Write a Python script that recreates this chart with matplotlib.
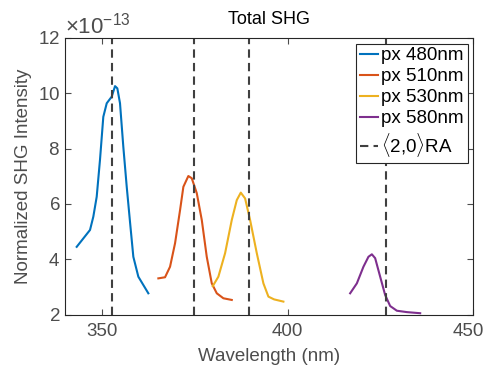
import numpy as np
import matplotlib.pyplot as plt
from matplotlib.ticker import ScalarFormatter
from matplotlib.transforms import ScaledTranslation

plt.rcParams['font.family'] = ['Liberation Sans', 'DejaVu Sans']
plt.rcParams['mathtext.fontset'] = 'custom'
plt.rcParams['mathtext.rm'] = 'Liberation Sans'

# spectra (wavelength in nm, intensity in units of 1e-13)
wl_480 = [343.15, 346.74, 347.63, 348.54, 349.43, 350.32, 351.24, 352.59, 353.48,
          354.10, 354.82, 355.71, 356.63, 357.55, 358.41, 359.76, 362.45]
I_480 = [4.45, 5.06, 5.54, 6.26, 7.60, 9.15, 9.64, 9.88, 10.26,
         10.18, 9.64, 8.07, 6.62, 5.30, 4.09, 3.37, 2.77]

wl_510 = [365.15, 366.95, 368.30, 369.65, 371.00, 371.89, 373.23, 374.15,
          375.50, 376.85, 378.19, 379.54, 380.89, 382.67, 384.93]
I_510 = [3.31, 3.35, 3.73, 4.58, 5.78, 6.62, 7.01, 6.93,
         6.39, 5.42, 4.09, 3.13, 2.77, 2.59, 2.53]

wl_530 = [379.81, 381.32, 383.13, 384.93, 386.28, 387.36, 388.52, 389.87,
          391.67, 393.45, 394.80, 396.33, 398.84]
I_530 = [3.03, 3.37, 4.22, 5.42, 6.14, 6.41, 6.20, 5.42,
         4.22, 3.13, 2.65, 2.55, 2.47]

wl_580 = [416.82, 418.63, 420.40, 421.75, 422.67, 423.56, 424.91, 426.25,
          427.60, 429.41, 432.10, 435.69]
I_580 = [2.77, 3.13, 3.73, 4.09, 4.18, 4.04, 3.37, 2.71,
         2.31, 2.14, 2.09, 2.05]

ra_lines = [352.75, 374.86, 389.6, 426.4]

labels = ['px 480nm', 'px 510nm', 'px 530nm', 'px 580nm']
colors = ['#0072BD', '#D95319', '#EDB120', '#7E2F8E']

fig = plt.figure(figsize=(4.86, 3.74), dpi=100)
ax = fig.add_axes([65 / 486, 1 - 314.6 / 374, (473.3 - 65) / 486, (314.6 - 38) / 374])

series = [(wl_480, I_480), (wl_510, I_510), (wl_530, I_530), (wl_580, I_580)]
for (x, y), lab, c in zip(series, labels, colors):
    ax.plot(x, np.array(y) * 1e-13, color=c, lw=1.5, label=lab)

for i, xv in enumerate(ra_lines):
    ax.axvline(xv, color='#404040', ls=(0, (4, 2.5)), lw=1.5,
               label=r'$\langle$2,0$\rangle$RA' if i == 0 else None)

ax.set_xlim(340, 450)
ax.set_ylim(2e-13, 12e-13)
ax.set_xticks([350, 400, 450])
ax.set_yticks(np.arange(2, 13, 2) * 1e-13)
fmt = ScalarFormatter(useMathText=True)
fmt.set_powerlimits((-13, -13))
ax.yaxis.set_major_formatter(fmt)

for s in ax.spines.values():
    s.set_color('#262626')
ax.tick_params(direction='in', top=True, right=True, labelsize=13.5,
               colors='#4d4d4d', length=4)
ax.tick_params(axis='x', pad=6)
ax.yaxis.get_offset_text().set_fontsize(16)
ax.yaxis.get_offset_text().set_color('#4d4d4d')

# keep the last x label inside the figure
fig.canvas.draw()
last = ax.get_xticklabels()[-1]
last.set_transform(last.get_transform() + ScaledTranslation(-5 / 100, 0, fig.dpi_scale_trans))

ax.set_xlabel('Wavelength (nm)', fontsize=13.5, color='#4d4d4d', labelpad=6)
ax.set_ylabel('Normalized SHG Intensity', fontsize=13.5, color='#4d4d4d')
ax.set_title('Total SHG', fontsize=13, pad=10)

leg = ax.legend(loc='upper right', fontsize=13.5, handlelength=1.0, handletextpad=0.15,
                borderpad=0.2, labelspacing=0.2, fancybox=False, framealpha=1,
                borderaxespad=0.3)
leg.get_frame().set_edgecolor('#262626')
leg.get_frame().set_linewidth(0.8)

fig.savefig('out.png', dpi=100)
